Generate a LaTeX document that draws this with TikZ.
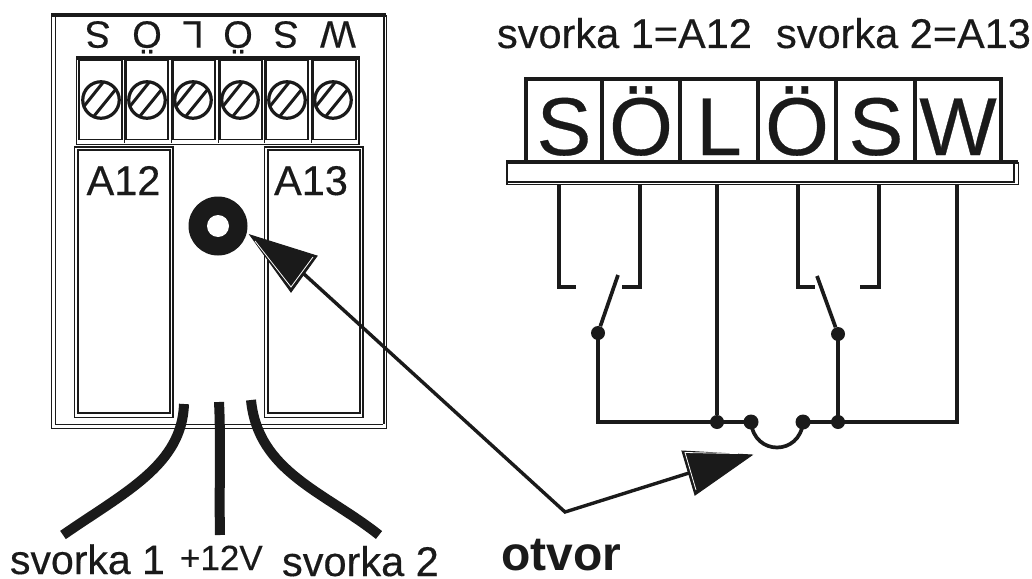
\documentclass[tikz,border=0pt]{standalone}
\usepackage{fontspec}
\setmainfont{Liberation Sans}
\newfontfamily\heavy[FakeBold=0.35]{Liberation Sans}
\definecolor{ink}{HTML}{1A1A1A}
\newcommand{\fsz}[1]{\fontsize{#1}{#1}\selectfont\heavy}
\tikzset{
  x=1pt,y=-1pt,
  txt/.style={inner sep=0,outer sep=0,text=ink},
  wire/.style={draw=ink,line width=3.7pt},
  thin line/.style={draw=ink,line width=1pt},
  mid line/.style={draw=ink,line width=1.8pt},
  frame/.style={draw=ink,line width=2.6pt},
  dotnode/.style={circle,fill=ink,minimum size=14pt,inner sep=0},
  cable/.style={draw=ink,line width=10pt},
  screw/.style={circle,draw=ink,line width=3.2pt,minimum size=36.5pt,inner sep=0},
  headfill/.style={fill=ink,draw=ink,line width=1pt,line join=miter},
  headline/.style={draw=white,line width=.8pt,line join=miter},
  shaft/.style={draw=ink,line width=3.4pt,line join=miter},
}
\begin{document}
\begin{tikzpicture}
\useasboundingbox (0,0) rectangle (1032,578);
% housing
\draw[thin line] (51,15) -- (51,428) -- (386,428) -- (386,15);
\draw[thin line] (55,15) -- (55,424) -- (383,424);
\draw[line width=3.6pt,draw=ink] (51,15) -- (386,15);
\draw[line width=2.6pt,draw=ink] (384,15) -- (384,424);
% upside-down labels
\foreach \n/\t/\cx in {a/S/98,b/Ö/147,c/L/193,d/Ö/238,e/S/286,f/W/338}{
  \node[txt,rotate=180,anchor=base,font=\fsz{38}] (top\n) at (\cx,21.5) {\t};
}
% terminal block
\draw[thin line] (76,57) rectangle (359,144);
\draw[frame] (76,58.5) -- (359,58.5) -- (359,144);
\foreach \xa/\xb in {79/122,126/168,173/215,220/262,266/308,313/356}{
  \draw[mid line] (\xa,60) rectangle (\xb,139.5);
}
\foreach \xx in {124,171,218,264,311}{ \draw[thin line] (\xx,58) -- (\xx,143); }
\foreach \n/\cx in {a/101,b/147,c/193,d/240,e/287,f/333}{
  \node[screw] (sc\n) at (\cx,100) {};
  \begin{scope}
    \clip (\cx,100) circle (18);
    \draw[line width=3pt,draw=ink] (\cx-20,100+10) -- (\cx+4,100-20);
    \draw[line width=3pt,draw=ink] (\cx-11,100+21) -- (\cx+15,100-11);
  \end{scope}
}
% relay boxes
\draw[thin line] (74,147) rectangle (173,417);
\draw[mid line] (78,150) rectangle (170,413);
\draw[line width=2.6pt,draw=ink] (74,147) -- (173,147) -- (173,417);
\draw[thin line] (264,147) rectangle (363,417);
\draw[mid line] (268,150) rectangle (360,413);
\draw[line width=2.6pt,draw=ink] (264,147) -- (363,147) -- (363,417);
\node[txt,anchor=base,font=\fsz{41.5}] (a12) at (123.5,195) {A12};
\node[txt,anchor=base,font=\fsz{41.5}] (a13) at (311,195) {A13};
% hole
\node[circle,fill=ink,minimum size=59pt,inner sep=0] (hole) at (218,226) {};
\node[circle,fill=white,minimum size=22pt,inner sep=0] (holein) at (218,226) {};
% cables
\coordinate (c1a) at (184,404); \coordinate (c1b) at (63,535);
\coordinate (c2a) at (219,402); \coordinate (c2b) at (220,535);
\coordinate (c3a) at (251,400); \coordinate (c3b) at (379,535);
\draw[cable] (c1a) .. controls (182,465) and (125,492) .. (c1b);
\draw[cable] (c2a) .. controls (221,440) and (219,490) .. (c2b);
\draw[cable] (c3a) .. controls (258,472) and (325,492) .. (c3b);
\node[txt,anchor=base west,font=\fsz{41}] (l1) at (10,574) {svorka 1};
\node[txt,anchor=base west,font=\fsz{35}] (l2) at (180,570) {+12V};
\node[txt,anchor=base west,font=\fsz{41.5}] (l3) at (282,576) {svorka 2};
\node[txt,anchor=base west,font=\fontsize{48}{48}\selectfont\bfseries] (l4) at (501,570) {otvor};
% top right labels
\node[txt,anchor=base west,font=\fsz{41.5}] (s1) at (497,48) {svorka 1=A12};
\node[txt,anchor=base west,font=\fsz{41.5}] (s2) at (776,48) {svorka 2=A13};
% terminal strip
\draw[line width=3.5pt,draw=ink] (526,162) -- (526,79) -- (1001,79) -- (1001,162);
\foreach \xx in {602,680,758,836,915}{ \draw[line width=3.5pt,draw=ink] (\xx,79) -- (\xx,162); }
\foreach \n/\t/\cx in {a/S/564,b/Ö/641,c/L/719,d/Ö/797,e/S/876,f/W/958}{
  \node[txt,anchor=base,font=\fsz{82}] (bl\n) at (\cx,155) {\t};
}
\draw[thin line] (506,184) -- (1018,184) -- (1018,162);
\draw[mid line] (507,182) -- (1014,182) -- (1014,162);
\draw[mid line] (507,162) -- (507,184);
\draw[line width=3.2pt,draw=ink] (506,162) -- (1018,162);
% circuit
\coordinate (t1) at (559,184); \coordinate (t2) at (640,184); \coordinate (t3) at (717,184);
\coordinate (t4) at (798,184); \coordinate (t5) at (879,184); \coordinate (t6) at (957,184);
\coordinate (b1) at (576,287); \coordinate (b2) at (622,287);
\coordinate (b4) at (815,287); \coordinate (b5) at (860,287);
\coordinate (sw1) at (618,275); \coordinate (sw2) at (817,276);
\coordinate (c1) at (598,422); \coordinate (c6) at (957,422);
\node[dotnode] (p1) at (598,333) {};
\node[dotnode] (p2) at (838,334) {};
\node[dotnode] (j1) at (717,422) {};
\node[dotnode,minimum size=15pt] (j2) at (751,422) {};
\node[dotnode,minimum size=15pt] (j3) at (803,422) {};
\node[dotnode] (j4) at (838,422) {};
\draw[wire] (t1) |- (b1);
\draw[wire] (t2) |- (b2);
\draw[wire] (t4) |- (b4);
\draw[wire] (t5) |- (b5);
\draw[wire] (t3) -- (j1);
\draw[wire] (sw1) -- (p1);
\draw[wire] (sw2) -- (p2);
\draw[wire,line join=miter] (p1.center) -- (c1) -- (j1.center) -- (j2.center);
\draw[wire] (j3.center) -- (j4.center);
\draw[wire,line join=miter] (j4.center) -- (c6) -- (t6);
\draw[wire] (p2.center) -- (j4.center);
\draw[wire] (j2.center) .. controls (754,456) and (800,456) .. (j3.center);
% arrow
\coordinate (tipa) at (250,235); \coordinate (tipb) at (752,455);
\coordinate (bend) at (565,512);
\coordinate (nota) at (304,274); \coordinate (notb) at (689,473);
\draw[shaft] (nota) -- (bend) -- (notb);
\draw[headfill] (tipa) -- (317,256) -- (291,292) -- cycle;
\draw[headfill] (tipb) -- (682,451) -- (695,495) -- cycle;
\draw[headline] (255,241) -- (291,287) -- (313,257);
\draw[headline] (738,453.5) -- (685,452.5) -- (696,490);
\end{tikzpicture}
\end{document}
